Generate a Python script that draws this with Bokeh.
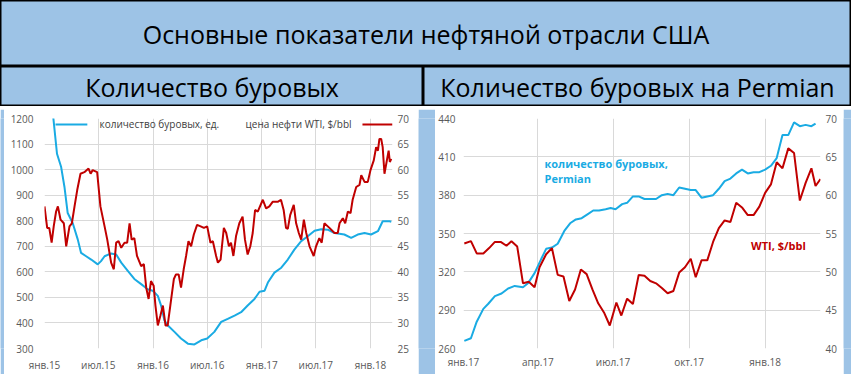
import pandas as pd
from bokeh.plotting import figure
from bokeh.layouts import column, row
from bokeh.models import Range1d, LinearAxis, FixedTicker, Label, Arrow
from bokeh.embed import file_html
from bokeh.resources import INLINE

# ---------------- data ----------------
title_text = "Основные показатели нефтяной отрасли США"
left_header = "Количество буровых"
right_header = "Количество буровых на Permian"

# left chart: US oil rig count (left axis) and WTI price (right axis)
rig_dates = [
    "2015-01-23", "2015-02-12", "2015-02-26", "2015-03-09", "2015-03-20", "2015-04-06", "2015-04-23", "2015-05-04", "2015-05-21", "2015-06-07",
    "2015-06-29", "2015-07-10", "2015-07-22", "2015-08-13", "2015-08-30", "2015-09-16", "2015-10-08", "2015-10-30", "2015-11-22", "2015-12-14",
    "2015-12-31", "2016-01-17", "2016-01-28", "2016-02-08", "2016-02-19", "2016-03-13", "2016-04-04", "2016-04-27", "2016-05-19", "2016-06-11",
    "2016-07-01", "2016-07-25", "2016-08-17", "2016-09-08", "2016-10-01", "2016-10-23", "2016-11-14", "2016-12-07", "2016-12-24", "2017-01-10",
    "2017-01-21", "2017-02-12", "2017-03-07", "2017-03-29", "2017-04-20", "2017-05-13", "2017-06-04", "2017-06-27", "2017-07-19", "2017-08-10",
    "2017-09-02", "2017-10-05", "2017-10-28", "2017-11-19", "2017-12-12", "2018-01-03", "2018-01-26", "2018-02-11", "2018-03-06", "2018-03-12",
]
rig_values = [
    1290, 1062, 1010, 933, 830, 790, 726, 674, 661, 648,
    629, 642, 661, 672, 668, 636, 604, 572, 552, 532,
    526, 506, 468, 410, 391, 365, 339, 319, 316, 332,
    339, 365, 404, 416, 429, 442, 468, 494, 522, 526,
    558, 597, 616, 648, 687, 720, 739, 761, 767, 765,
    752, 746, 733, 746, 752, 746, 759, 798, 798, 796,
]
wti_dates = [
    "2015-01-01", "2015-01-10", "2015-01-17", "2015-01-25", "2015-02-01", "2015-02-09", "2015-02-15", "2015-02-24", "2015-03-07", "2015-03-15",
    "2015-03-26", "2015-04-03", "2015-04-12", "2015-04-21", "2015-05-02", "2015-05-15", "2015-05-29", "2015-06-05", "2015-06-12", "2015-06-27",
    "2015-07-08", "2015-07-22", "2015-07-31", "2015-08-13", "2015-08-22", "2015-08-30", "2015-09-07", "2015-09-16", "2015-09-27", "2015-10-06",
    "2015-10-14", "2015-10-21", "2015-10-30", "2015-11-08", "2015-11-22", "2015-12-01", "2015-12-09", "2015-12-17", "2015-12-25", "2016-01-03",
    "2016-01-09", "2016-01-17", "2016-01-26", "2016-02-03", "2016-02-12", "2016-02-19", "2016-02-28", "2016-03-11", "2016-03-18", "2016-03-27",
    "2016-04-04", "2016-04-13", "2016-04-21", "2016-04-29", "2016-05-08", "2016-05-17", "2016-05-28", "2016-06-09", "2016-06-20", "2016-07-01",
    "2016-07-12", "2016-07-20", "2016-07-31", "2016-08-06", "2016-08-15", "2016-08-26", "2016-09-03", "2016-09-12", "2016-09-19", "2016-09-27",
    "2016-10-06", "2016-10-17", "2016-10-28", "2016-11-05", "2016-11-14", "2016-11-23", "2016-12-01", "2016-12-09", "2016-12-18", "2017-01-04",
    "2017-01-15", "2017-01-26", "2017-02-06", "2017-02-23", "2017-03-06", "2017-03-15", "2017-03-23", "2017-03-29", "2017-04-06", "2017-04-18",
    "2017-04-26", "2017-05-05", "2017-05-13", "2017-05-22", "2017-05-30", "2017-06-10", "2017-06-24", "2017-07-02", "2017-07-13", "2017-07-21",
    "2017-07-30", "2017-08-16", "2017-09-02", "2017-09-13", "2017-09-19", "2017-09-30", "2017-10-08", "2017-10-17", "2017-10-26", "2017-11-02",
    "2017-11-14", "2017-11-25", "2017-12-01", "2017-12-12", "2017-12-23", "2018-01-01", "2018-01-12", "2018-01-20", "2018-01-26", "2018-01-31",
    "2018-02-06", "2018-02-11", "2018-02-17", "2018-02-26", "2018-03-03", "2018-03-07", "2018-03-12",
]
wti_values = [
    52.8, 48.6, 48.6, 45.7, 48.9, 51.8, 52.8, 50.2, 49.5, 45.0,
    48.9, 49.5, 52.8, 56.0, 59.2, 59.5, 60.2, 59.2, 59.9, 59.5,
    52.8, 48.9, 46.3, 41.8, 40.5, 45.7, 46.0, 44.7, 45.7, 45.7,
    49.5, 46.3, 46.6, 43.1, 41.1, 41.5, 36.9, 34.7, 38.2, 37.3,
    33.4, 29.5, 31.5, 33.4, 29.5, 29.5, 33.4, 38.6, 39.5, 39.5,
    36.9, 40.5, 43.1, 46.0, 45.0, 47.3, 49.2, 48.9, 48.6, 48.9,
    45.7, 46.0, 43.1, 41.8, 42.4, 48.6, 47.6, 45.0, 45.7, 43.1,
    47.0, 49.5, 50.8, 46.3, 43.4, 45.0, 47.6, 52.1, 51.8, 54.1,
    52.4, 52.8, 53.7, 53.7, 54.1, 52.1, 48.6, 48.4, 51.1, 53.1,
    49.5, 47.6, 46.3, 50.2, 47.6, 45.0, 43.1, 45.0, 46.6, 45.7,
    49.5, 48.6, 47.6, 47.6, 49.5, 50.5, 49.5, 51.8, 51.5, 54.1,
    56.6, 57.0, 58.9, 57.6, 57.6, 59.9, 61.8, 64.4, 63.7, 66.0,
    66.0, 64.4, 59.2, 62.1, 63.7, 61.5, 62.1,
]

# right chart: Permian rig count (left axis) and WTI price (right axis)
perm_dates = [
    "2017-01-02", "2017-01-10", "2017-01-17", "2017-01-25", "2017-01-31", "2017-02-08", "2017-02-16", "2017-02-24", "2017-03-04", "2017-03-14",
    "2017-03-20", "2017-03-28", "2017-04-05", "2017-04-11", "2017-04-18", "2017-04-25", "2017-05-03", "2017-05-10", "2017-05-17", "2017-05-24",
    "2017-05-31", "2017-06-07", "2017-06-14", "2017-06-22", "2017-06-28", "2017-07-04", "2017-07-12", "2017-07-18", "2017-07-25", "2017-08-01",
    "2017-08-08", "2017-08-15", "2017-08-22", "2017-08-29", "2017-09-05", "2017-09-12", "2017-09-19", "2017-09-26", "2017-10-03", "2017-10-09",
    "2017-10-16", "2017-10-23", "2017-10-30", "2017-11-06", "2017-11-13", "2017-11-20", "2017-11-27", "2017-12-04", "2017-12-11", "2017-12-18",
    "2017-12-25", "2018-01-01", "2018-01-08", "2018-01-15", "2018-01-22", "2018-01-29", "2018-02-05", "2018-02-12", "2018-02-19", "2018-02-26",
    "2018-03-03",
]
perm_values = [
    266, 268, 281, 291, 295, 301, 303, 307, 309, 308,
    311, 319, 330, 338, 339, 342, 352, 358, 361, 362,
    365, 368, 368, 369, 370, 369, 373, 374, 379, 379,
    377, 377, 377, 380, 381, 380, 386, 385, 384, 384,
    378, 379, 380, 385, 391, 393, 397, 400, 397, 398,
    398, 400, 403, 409, 427, 427, 437, 434, 435, 434,
    436,
]
wti2_dates = [
    "2017-01-02", "2017-01-10", "2017-01-17", "2017-01-25", "2017-02-01", "2017-02-08", "2017-02-15", "2017-02-22", "2017-02-28", "2017-03-07",
    "2017-03-14", "2017-03-21", "2017-03-28", "2017-04-03", "2017-04-11", "2017-04-18", "2017-04-25", "2017-05-02", "2017-05-09", "2017-05-16",
    "2017-05-23", "2017-05-30", "2017-06-06", "2017-06-13", "2017-06-20", "2017-06-27", "2017-07-05", "2017-07-11", "2017-07-18", "2017-07-25",
    "2017-08-01", "2017-08-08", "2017-08-15", "2017-08-22", "2017-08-29", "2017-09-05", "2017-09-12", "2017-09-19", "2017-09-26", "2017-10-03",
    "2017-10-09", "2017-10-16", "2017-10-23", "2017-10-30", "2017-11-06", "2017-11-13", "2017-11-20", "2017-11-27", "2017-12-04", "2017-12-11",
    "2017-12-18", "2017-12-25", "2018-01-01", "2018-01-08", "2018-01-15", "2018-01-22", "2018-01-29", "2018-02-05", "2018-02-12", "2018-02-19",
    "2018-02-26", "2018-03-03", "2018-03-09",
]
wti2_values = [
    53.7, 54.0, 52.4, 52.4, 53.1, 53.9, 53.9, 53.4, 54.0, 53.3,
    48.5, 48.7, 48.0, 50.6, 52.3, 53.1, 49.6, 49.4, 46.2, 47.7,
    50.3, 49.7, 47.7, 45.9, 44.7, 43.0, 46.0, 44.3, 46.5, 45.8,
    49.6, 49.5, 48.8, 48.5, 47.9, 47.2, 47.5, 49.9, 50.6, 51.7,
    49.3, 51.5, 51.5, 53.9, 55.7, 56.7, 56.5, 59.0, 58.4, 57.4,
    57.4, 58.5, 60.3, 61.4, 64.3, 63.5, 66.1, 65.5, 59.3, 61.6,
    63.5, 61.2, 62.1,
]

# ticks
left_x_tick_dates = ["2015-01-01", "2015-07-01", "2016-01-01", "2016-07-01", "2017-01-01", "2017-07-01", "2018-01-01"]
left_x_tick_labels = ["янв.15", "июл.15", "янв.16", "июл.16", "янв.17", "июл.17", "янв.18"]
right_x_tick_dates = ["2017-01-01", "2017-04-01", "2017-07-01", "2017-10-01", "2018-01-01"]
right_x_tick_labels = ["янв.17", "апр.17", "июл.17", "окт.17", "янв.18"]
left_rig_ticks = [300, 400, 500, 600, 700, 800, 900, 1000, 1100, 1200]
left_wti_ticks = [25, 30, 35, 40, 45, 50, 55, 60, 65, 70]
right_perm_ticks = [260, 290, 320, 350, 380, 410, 440]
right_wti_ticks = [40, 45, 50, 55, 60, 65, 70]

legend_rig = "количество буровых, ед."
legend_wti = "цена нефти WTI, $/bbl"
note_perm = "количество буровых,\nPermian"
note_wti = "WTI, $/bbl"

# ---------------- style ----------------
FONT = "Open Sans"
PANEL = "#9DC3E6"
BLUE = "#1AABE3"
RED = "#C00000"
GRID = "#D9D9D9"
TICK = "#595959"


def ms(s):
    return pd.Timestamp(s).value // 10**6


def block(w, h, text=None, size="25px", outline=True):
    p = figure(width=w, height=h, output_backend="svg", toolbar_location=None,
               x_range=Range1d(0, 1), y_range=Range1d(0, 1),
               x_axis_location=None, y_axis_location=None, min_border=0)
    p.grid.visible = False
    p.background_fill_color = PANEL
    p.border_fill_color = PANEL
    if outline:
        p.outline_line_color = "black"
        p.outline_line_width = 2
    else:
        p.outline_line_color = None
    if text:
        p.add_layout(Label(x=0.5, y=0.5, text=text, text_align="center", text_baseline="middle",
                           text_font=FONT, text_font_size=size, text_color="black"))
    return p


def style_axis(ax, size="10px"):
    ax.axis_line_color = None
    ax.major_tick_line_color = None
    ax.minor_tick_line_color = None
    ax.major_tick_out = 0
    ax.major_tick_in = 0
    ax.minor_tick_out = 0
    ax.minor_tick_in = 0
    ax.major_label_text_color = TICK
    ax.major_label_text_font = FONT
    ax.major_label_text_font_size = size


def chart(w, h, xr, yr, yr2, xticks, xlabels, yticks, y2ticks, borders, standoffs):
    p = figure(width=w, height=h, output_backend="svg", toolbar_location=None,
               x_axis_type="datetime", x_range=Range1d(ms(xr[0]), ms(xr[1])),
               y_range=Range1d(*yr),
               min_border_left=borders[0], min_border_right=borders[1],
               min_border_top=borders[2], min_border_bottom=borders[3])
    p.extra_y_ranges = {"wti": Range1d(*yr2)}
    ax2 = LinearAxis(y_range_name="wti")
    p.add_layout(ax2, "right")
    xt = FixedTicker(ticks=[ms(d) for d in xticks])
    p.xaxis.ticker = xt
    p.xgrid.ticker = xt
    p.xaxis.major_label_overrides = {float(ms(d)): lab for d, lab in zip(xticks, xlabels)}
    yt = FixedTicker(ticks=yticks)
    p.yaxis[0].ticker = yt
    p.ygrid.ticker = yt
    ax2.ticker = FixedTicker(ticks=y2ticks)
    for ax in [p.xaxis[0], p.yaxis[0], ax2]:
        style_axis(ax)
    p.yaxis[0].major_label_standoff = standoffs[0]
    ax2.major_label_standoff = standoffs[1]
    p.xaxis[0].major_label_standoff = standoffs[2]
    p.grid.grid_line_color = GRID
    p.grid.grid_line_width = 1
    p.outline_line_color = None
    p.background_fill_color = "white"
    p.border_fill_color = "white"
    return p


# ---------------- left chart ----------------
p1 = chart(414, 265, ("2015-01-01", "2018-03-16"), (300, 1200), (25, 70),
           left_x_tick_dates, left_x_tick_labels, left_rig_ticks, left_wti_ticks,
           (40, 26, 9, 24), (11, 5, 9))
p1.line(pd.to_datetime(rig_dates), rig_values, line_color=BLUE, line_width=2)
p1.line(pd.to_datetime(wti_dates), wti_values, line_color=RED, line_width=2, y_range_name="wti")

# legend (placed inside the plot area, as in the original)
LEG_Y = 1177
p1.add_layout(Arrow(x_start=ms("2015-02-07"), y_start=LEG_Y, x_end=ms("2015-05-25"), y_end=LEG_Y,
                    start=None, end=None, line_color=BLUE, line_width=2))
p1.add_layout(Label(x=ms("2015-07-05"), y=LEG_Y, text=legend_rig,
                    text_baseline="middle", text_font=FONT, text_font_size="10px", text_color="#404040"))
p1.add_layout(Label(x=ms("2016-11-07"), y=LEG_Y, text=legend_wti,
                    text_baseline="middle", text_font=FONT, text_font_size="10px", text_color="#404040"))
p1.add_layout(Arrow(x_start=ms("2017-12-05"), y_start=LEG_Y, x_end=ms("2018-03-16"), y_end=LEG_Y,
                    start=None, end=None, line_color=RED, line_width=2))

# ---------------- right chart ----------------
p2 = chart(408, 265, ("2017-01-01", "2018-03-09"), (260, 440), (40, 70),
           right_x_tick_dates, right_x_tick_labels, right_perm_ticks, right_wti_ticks,
           (25, 23, 8, 20), (8, 5, 6))
p2.line(pd.to_datetime(perm_dates), perm_values, line_color=BLUE, line_width=2)
p2.line(pd.to_datetime(wti2_dates), wti2_values, line_color=RED, line_width=2, y_range_name="wti")
p2.add_layout(Label(x=ms("2017-04-09"), y=411, text=note_perm, text_baseline="top",
                    text_font=FONT, text_font_size="11px", text_font_style="bold",
                    text_color=BLUE, text_line_height=1.05))
p2.add_layout(Label(x=ms("2017-12-15"), y=341, text=note_wti, text_baseline="middle",
                    text_font=FONT, text_font_size="11px", text_font_style="bold",
                    text_color=RED))

# ---------------- layout ----------------
banner = block(851, 66, title_text)
h1 = block(423, 40, left_header)
h2 = block(428, 40, right_header)
strip = block(851, 3, outline=False)
s1 = block(4, 265, outline=False)
s2 = block(17, 265, outline=False)
s3 = block(8, 265, outline=False)

layout = column(banner, row(h1, h2), strip, row(s1, p1, s2, p2, s3))

open("out.html", "w").write(file_html(layout, INLINE))
